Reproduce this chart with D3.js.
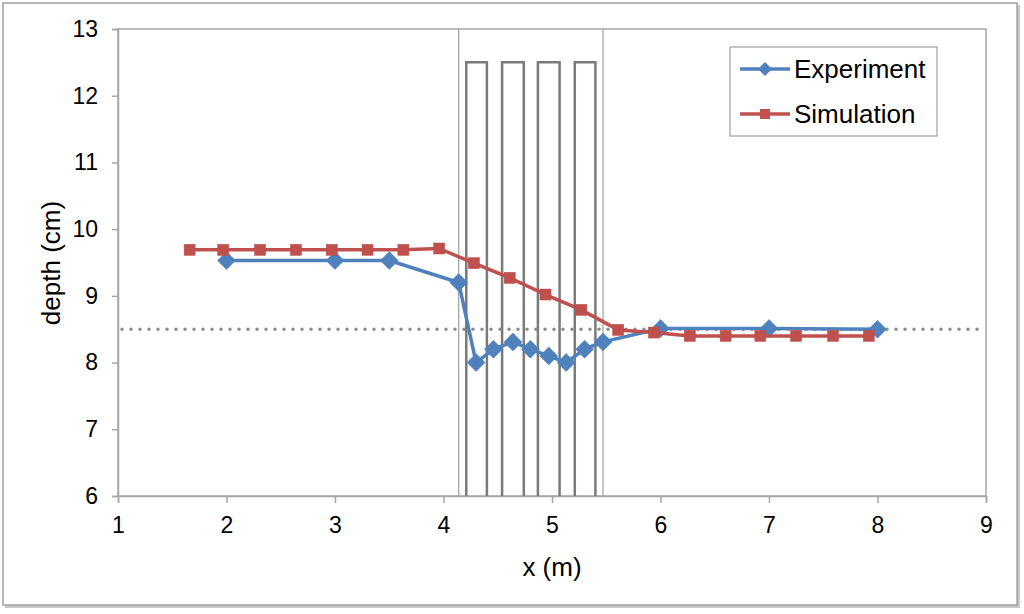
<!DOCTYPE html>
<html>
<head>
<meta charset="utf-8">
<script src="https://d3js.org/d3.v7.min.js"></script>
<style>
  body { margin: 0; background: #fff; }
  text { font-family: "Liberation Sans", Arial, sans-serif; fill: #000; }
</style>
</head>
<body>
<div id="graph"></div>
<script>

// Data
var expX = [2, 3, 3.5, 4.14, 4.3, 4.46, 4.64, 4.8, 4.97, 5.13, 5.3, 5.47, 6, 7, 8]
var expY = [9.53, 9.53, 9.53, 9.2, 8.0, 8.2, 8.31, 8.2, 8.1, 8.0, 8.2, 8.31, 8.51, 8.51, 8.5]

var simX = [1.66, 1.97, 2.31, 2.64, 2.97, 3.30, 3.63, 3.96, 4.28, 4.61,
            4.94, 5.27, 5.61, 5.94, 6.27, 6.60, 6.92, 7.25, 7.59, 7.92]
var simY = [9.69, 9.69, 9.69, 9.69, 9.69, 9.69, 9.69, 9.71, 9.49, 9.27,
            9.02, 8.79, 8.49, 8.45, 8.4, 8.4, 8.4, 8.4, 8.4, 8.4]

var levelY = 8.5
var boundaryX = [4.14, 5.47]
var pierLeft = [4.21, 4.54, 4.87, 5.21]
var pierRight = [4.40, 4.74, 5.07, 5.40]
var pierTop = 12.5

var xTicks = [1, 2, 3, 4, 5, 6, 7, 8, 9]
var yTicks = [6, 7, 8, 9, 10, 11, 12, 13]

var blue = '#4F81BD', red = '#C0504D'

var svg = d3.select('#graph')
  .append('svg')
  .attr('width', 1024)
  .attr('height', 614)

// Outer chart frame with a little shadow
svg.append('rect').attr('x', 5).attr('y', 5)
  .attr('width', 1015).attr('height', 603)
  .attr('fill', '#c8c8c8')
svg.append('rect').attr('x', 3).attr('y', 3)
  .attr('width', 1014).attr('height', 602)
  .attr('fill', '#fff').attr('stroke', '#a0a0a0').attr('stroke-width', 1.5)

// Scales
var x = d3.scaleLinear().domain([1, 9]).range([118, 986])
var y = d3.scaleLinear().domain([6, 13]).range([496, 29])

// Plot area border
svg.append('rect')
  .attr('x', x(1)).attr('y', y(13))
  .attr('width', x(9) - x(1)).attr('height', y(6) - y(13))
  .attr('fill', 'none').attr('stroke', '#a6a6a6').attr('stroke-width', 1.5)

// Axes
var yAxis = svg.append('g')
  .attr('transform', `translate(${x(1)}, 0)`)
  .call(d3.axisLeft(y).tickValues(yTicks).tickSize(6).tickPadding(14).tickFormat(d3.format('d')))
var xAxis = svg.append('g')
  .attr('transform', `translate(0, ${y(6)})`)
  .call(d3.axisBottom(x).tickValues(xTicks).tickSize(7).tickPadding(14).tickFormat(d3.format('d')))

svg.selectAll('.domain').attr('stroke', '#a6a6a6').attr('stroke-width', 1.5)
svg.selectAll('.tick line').attr('stroke', '#a6a6a6').attr('stroke-width', 1.5)
svg.selectAll('.tick text').style('font-size', '23px').attr('fill', '#000')
  .style('font-family', '"Liberation Sans", Arial, sans-serif')

// Axis titles
svg.append('text')
  .attr('x', 552).attr('y', 576)
  .attr('text-anchor', 'middle')
  .style('font-size', '26px')
  .text('x (m)')

svg.append('text')
  .attr('transform', 'translate(60, 263) rotate(-90)')
  .attr('text-anchor', 'middle')
  .style('font-size', '26px')
  .text('depth (cm)')

// Region boundaries
svg.append('g').selectAll('line')
  .data(boundaryX)
  .join('line')
  .attr('x1', d => x(d)).attr('x2', d => x(d))
  .attr('y1', y(6)).attr('y2', y(13))
  .attr('stroke', '#a6a6a6').attr('stroke-width', 1.3)

// Piers
var pierPath = d3.line().x(d => x(d[0])).y(d => y(d[1]))
svg.append('g').selectAll('path')
  .data(pierLeft.map((l, i) => [[l, 6], [l, pierTop], [pierRight[i], pierTop], [pierRight[i], 6]]))
  .join('path')
  .attr('d', pierPath)
  .attr('fill', 'none').attr('stroke', '#7a7a7a').attr('stroke-width', 2.5)

// Still water level
svg.append('line')
  .attr('x1', x(1) + 4).attr('x2', x(9) - 2)
  .attr('y1', y(levelY)).attr('y2', y(levelY))
  .attr('stroke', '#8a8a8a').attr('stroke-width', 3.5)
  .attr('stroke-linecap', 'round').attr('stroke-dasharray', '0 9')

var line = d3.line().x(d => x(d[0])).y(d => y(d[1]))
var expData = expX.map((v, i) => [v, expY[i]])
var simData = simX.map((v, i) => [v, simY[i]])

var diamond = function(cx, cy, r) {
  return `M${cx},${cy - r}L${cx + r},${cy}L${cx},${cy + r}L${cx - r},${cy}Z`
}

// Experiment series
svg.append('path').datum(expData)
  .attr('d', line)
  .attr('fill', 'none').attr('stroke', blue).attr('stroke-width', 3.5)
  .attr('stroke-linejoin', 'round')
svg.append('g').selectAll('path')
  .data(expData)
  .join('path')
  .attr('d', d => diamond(x(d[0]), y(d[1]), 9))
  .attr('fill', blue).attr('stroke', blue).attr('stroke-width', 0.5)

// Simulation series
svg.append('path').datum(simData)
  .attr('d', line)
  .attr('fill', 'none').attr('stroke', red).attr('stroke-width', 3.5)
  .attr('stroke-linejoin', 'round')
svg.append('g').selectAll('rect')
  .data(simData)
  .join('rect')
  .attr('x', d => x(d[0]) - 5.5).attr('y', d => y(d[1]) - 5.5)
  .attr('width', 11).attr('height', 11)
  .attr('fill', red).attr('stroke', '#b84a47').attr('stroke-width', 0.5)

// Legend
var legend = svg.append('g')
legend.append('rect')
  .attr('x', 730).attr('y', 47).attr('width', 207).attr('height', 89)
  .attr('fill', '#fff').attr('stroke', '#a6a6a6').attr('stroke-width', 1.3)

legend.append('line').attr('x1', 740).attr('x2', 790).attr('y1', 69).attr('y2', 69)
  .attr('stroke', blue).attr('stroke-width', 3.5)
legend.append('path').attr('d', diamond(765, 69, 7)).attr('fill', blue)
legend.append('text').attr('x', 794).attr('y', 78).style('font-size', '26px').text('Experiment')

legend.append('line').attr('x1', 740).attr('x2', 790).attr('y1', 114).attr('y2', 114)
  .attr('stroke', red).attr('stroke-width', 3.5)
legend.append('rect').attr('x', 760).attr('y', 109).attr('width', 10).attr('height', 10).attr('fill', red)
legend.append('text').attr('x', 794).attr('y', 123).style('font-size', '26px').text('Simulation')

</script>
</body>
</html>
